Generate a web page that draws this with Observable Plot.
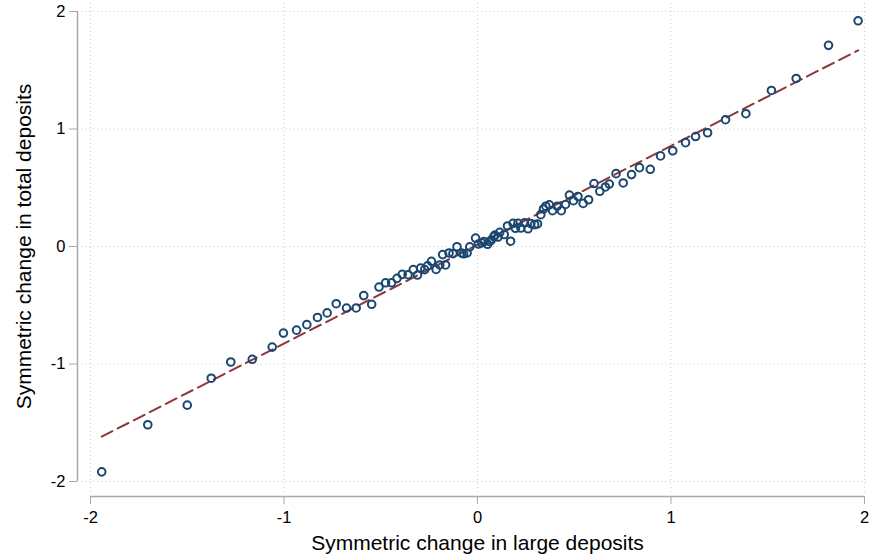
<!DOCTYPE html>
<html><head><meta charset="utf-8">
<script src="https://cdn.jsdelivr.net/npm/d3@7"></script>
<script src="https://cdn.jsdelivr.net/npm/@observablehq/plot@0.6"></script>
<style>body{margin:0;background:#fff;}</style>
</head><body><div id="chart"></div>
<script>
// Symmetric change in large deposits (x) and total deposits (y)
const largeDepositChange = [
  -1.942,-1.704,-1.500,-1.376,-1.275,-1.164,-1.061,-1.003,-0.935,-0.882,
  -0.827,-0.777,-0.730,-0.677,-0.627,-0.588,-0.547,-0.509,-0.475,-0.444,
  -0.416,-0.389,-0.359,-0.332,-0.310,-0.294,-0.273,-0.258,-0.238,-0.214,
  -0.195,-0.165,-0.180,-0.147,-0.127,-0.106,-0.083,-0.072,-0.054,-0.040,
  -0.010,0.005,0.021,0.033,0.052,0.062,0.071,0.085,0.090,0.106,
  0.115,0.138,0.155,0.171,0.184,0.196,0.209,0.224,0.243,0.261,
  0.276,0.295,0.310,0.327,0.341,0.353,0.371,0.388,0.412,0.433,
  0.455,0.475,0.496,0.519,0.546,0.574,0.602,0.632,0.661,0.681,
  0.716,0.753,0.796,0.837,0.893,0.946,1.009,1.075,1.127,1.189,
  1.282,1.387,1.519,1.647,1.814,1.967
];
const totalDepositChange = [
  -1.918,-1.517,-1.350,-1.121,-0.983,-0.960,-0.856,-0.737,-0.712,-0.665,
  -0.604,-0.565,-0.487,-0.524,-0.523,-0.418,-0.492,-0.345,-0.309,-0.309,
  -0.271,-0.237,-0.240,-0.197,-0.243,-0.184,-0.197,-0.165,-0.127,-0.195,
  -0.157,-0.157,-0.069,-0.055,-0.061,-0.002,-0.055,-0.062,-0.055,-0.003,
  0.072,0.021,0.031,0.042,0.019,0.042,0.055,0.085,0.097,0.081,
  0.120,0.102,0.175,0.045,0.197,0.155,0.197,0.157,0.201,0.151,
  0.195,0.186,0.192,0.271,0.319,0.343,0.354,0.305,0.343,0.305,
  0.358,0.438,0.390,0.426,0.367,0.398,0.536,0.470,0.507,0.531,
  0.620,0.541,0.612,0.671,0.657,0.771,0.815,0.884,0.936,0.968,
  1.079,1.130,1.328,1.430,1.712,1.921
];
const xTicks = [-2, -1, 0, 1, 2];
const yTicks = [-2, -1, 0, 1, 2];
const xTitle = "Symmetric change in large deposits";
const yTitle = "Symmetric change in total deposits";
// fitted line
const fitIntercept = 0.015;
const fitSlope = 0.841;

const points = largeDepositChange.map((x, i) => ({x, y: totalDepositChange[i]}));
const xExt = d3.extent(largeDepositChange);
const fitLine = xExt.map(x => ({x, y: fitIntercept + fitSlope * x}));

const fmt = d => String(d);
const gridColor = "#cfcfcf";
const axisColor = "#a8a8a8";

const chart = Plot.plot({
  width: 873,
  height: 560,
  marginLeft: 90,
  marginRight: 9,
  marginTop: 11,
  marginBottom: 79,
  style: {fontFamily: "Arial, 'Liberation Sans', sans-serif", fontSize: "16px", background: "#fff", color: "#000"},
  x: {domain: [-2, 2]},
  y: {domain: [-2, 2]},
  marks: [
    Plot.ruleY(yTicks, {stroke: gridColor, strokeDasharray: "1,3", insetLeft: -13, insetRight: -2}),
    Plot.ruleX(xTicks, {stroke: gridColor, strokeDasharray: "1,3", insetTop: -8, insetBottom: -11}),
    Plot.ruleX([-2], {dx: -13, stroke: axisColor, strokeWidth: 1.5}),
    Plot.ruleY([-2], {dy: 15, stroke: axisColor, strokeWidth: 1.5}),
    Plot.axisY({ticks: yTicks, tickFormat: fmt, dx: -13, tickSize: 8, tickPadding: 4, stroke: axisColor, fontSize: 16.5, label: null, color: "#000"}),
    Plot.axisX({ticks: xTicks, tickFormat: fmt, dy: 15, tickSize: 8, tickPadding: 7, stroke: axisColor, fontSize: 16.5, label: null}),
    Plot.line(fitLine, {x: "x", y: "y", stroke: "#90353b", strokeWidth: 2, strokeDasharray: "12,6"}),
    Plot.dot(points, {x: "x", y: "y", r: 3.8, stroke: "#1a476f", strokeWidth: 2, fill: "none"}),
    Plot.text([xTitle], {frameAnchor: "bottom", dy: 68, fontSize: 21, fill: "#000"}),
    Plot.text([yTitle], {frameAnchor: "left", textAnchor: "middle", dx: -66, rotate: -90, fontSize: 21, fill: "#000"})
  ]
});
document.getElementById("chart").appendChild(chart);
</script>
</body></html>
